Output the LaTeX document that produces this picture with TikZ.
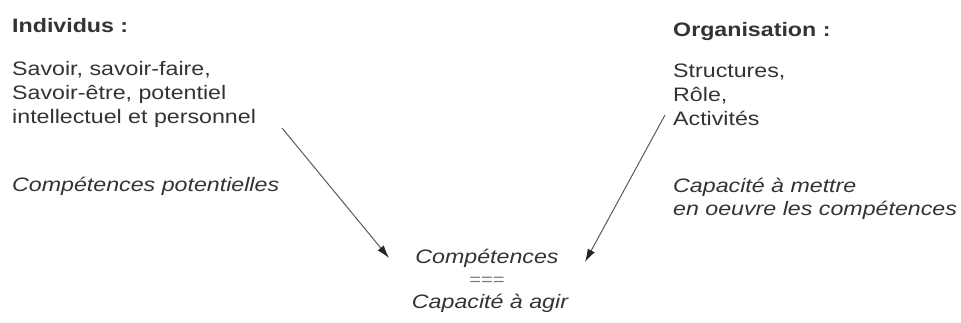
\documentclass[tikz,border=0pt]{standalone}
\usepackage{fontspec}
\setmainfont{Liberation Sans}[FakeStretch=1.19]
\usetikzlibrary{arrows.meta}
\definecolor{inkGray}{HTML}{333333}
\definecolor{lineGray}{HTML}{5A5A5A}
\definecolor{eqGray}{HTML}{7A7A7A}
\newcommand{\scantext}{\fontsize{19.5}{24}\selectfont}

\begin{document}
\begin{tikzpicture}[x=1pt,y=-1pt,>={Latex[length=13pt,width=8pt,color=black!85]},
  blk/.style={anchor=base west,inner sep=0pt,align=left,text=inkGray,font=\scantext},
  head/.style={blk,font=\scantext\bfseries},
  note/.style={blk,font=\fontsize{19.5}{23}\selectfont\itshape},
  ctr/.style={anchor=base,inner sep=0pt,text=inkGray,font=\scantext\itshape}]
  \useasboundingbox (0,0) rectangle (961,323);
  % individus (base = last line)
  \node[head] (indiv) at (12,33) {Individus :};
  \node[blk] (indivtxt) at (12,124) {Savoir, savoir-faire,\\Savoir-être, potentiel\\intellectuel et personnel};
  \node[note] (indivnote) at (12,192) {Compétences potentielles};
  % organisation
  \node[head] (orga) at (673,37) {Organisation :};
  \node[blk] (orgatxt) at (673,126) {Structures,\\Rôle,\\Activités};
  \node[note] (organote) at (673,215) {Capacité à mettre\\en oeuvre les compétences};
  % resultat
  \node[ctr] (comp) at (487,263) {Compétences};
  \node[ctr,font=\fontsize{17}{17}\selectfont,text=eqGray] (eq) at (487,285) {===};
  \node[ctr] (agir) at (490,308) {Capacité à agir};
  \coordinate (ltail) at (282,128);
  \coordinate (ltip) at (389,258);
  \coordinate (rtail) at (665,115);
  \coordinate (rtip) at (585,262);
  \draw[->,lineGray,line width=1pt] (ltail) -- (ltip);
  \draw[->,lineGray,line width=1pt] (rtail) -- (rtip);
\end{tikzpicture}
\end{document}
